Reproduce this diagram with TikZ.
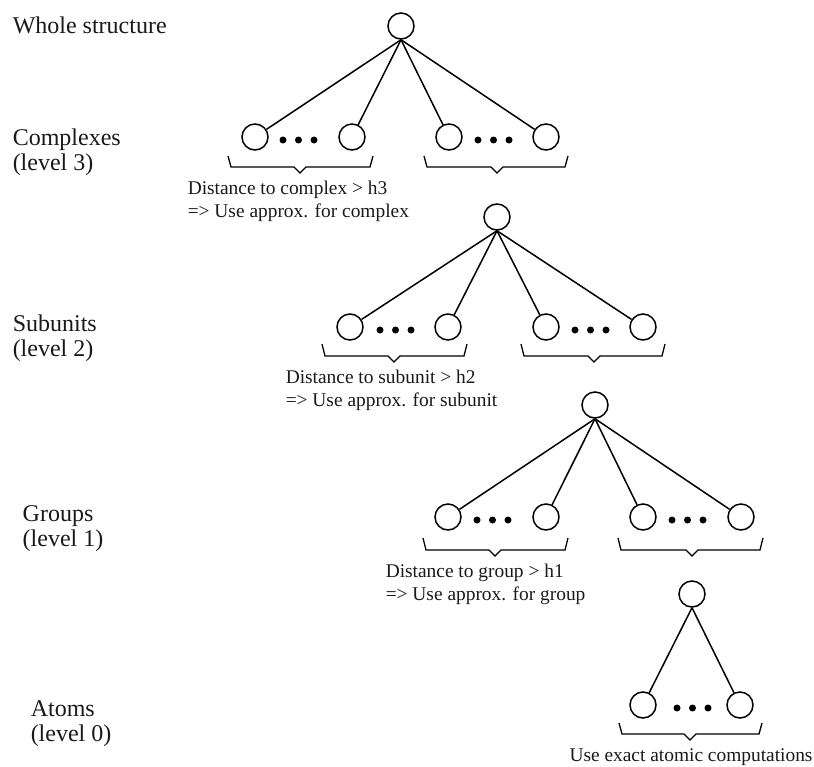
\documentclass[tikz,border=0pt]{standalone}
\usepackage{fontspec}
\setmainfont{Liberation Serif}
\begin{document}
\begin{tikzpicture}[x=1pt,y=-1pt,line width=1.5pt,
  vert/.style={circle,draw,minimum size=26pt,inner sep=0pt},
  dotn/.style={circle,fill,minimum size=7pt,inner sep=0pt},
  lvl/.style={anchor=base west,font=\fontsize{24}{25}\selectfont,align=left,inner sep=0pt,text=black!90},
  note/.style={anchor=base west,font=\fontsize{19.4}{23}\selectfont,align=left,inner sep=0pt,text=black!90},
  brace/.style={line width=1.3pt}]
\useasboundingbox (0,0) rectangle (814,766);

% ---------- level labels (anchor = baseline of last line) ----------
\node[lvl] (lw) at (12,33) {Whole structure};
\node[lvl] (l3) at (12,170) {Complexes\\(level 3)};
\node[lvl] (l2) at (12,356) {Subunits\\(level 2)};
\node[lvl] (l1) at (22,546) {Groups\\(level 1)};
\node[lvl] (l0) at (30,741) {Atoms\\(level 0)};

% ---------- level 3 tree ----------
\node[vert] (r3) at (401,26) {};
\node[vert] (a3) at (255,137) {};
\node[vert] (b3) at (352,137) {};
\node[vert] (c3) at (449,137) {};
\node[vert] (d3) at (546,137) {};
\foreach \c in {a3,b3,c3,d3} \draw (r3.south) -- (\c);
\node[dotn] (p3a) at (283,140) {};
\node[dotn] (p3b) at (298.5,140) {};
\node[dotn] (p3c) at (314,140) {};
\node[dotn] (q3a) at (478,140) {};
\node[dotn] (q3b) at (493.5,140) {};
\node[dotn] (q3c) at (509,140) {};
\draw[brace] (228,156) -- (231,167) -- (294,167) -- (300,173) -- (306,167) -- (370,167) -- (373,156);
\draw[brace] (424,156) -- (427,167) -- (491,167) -- (497,173) -- (503,167) -- (565,167) -- (568,156);
\node[note] (n3) at (187,217) {Distance to complex > h3\\=> Use approx. for complex};

% ---------- level 2 tree ----------
\node[vert] (r2) at (497,217) {};
\node[vert] (a2) at (350,327) {};
\node[vert] (b2) at (448,327) {};
\node[vert] (c2) at (546,327) {};
\node[vert] (d2) at (643,327) {};
\foreach \c in {a2,b2,c2,d2} \draw (r2.south) -- (\c);
\node[dotn] (p2a) at (380,330) {};
\node[dotn] (p2b) at (395.5,330) {};
\node[dotn] (p2c) at (411,330) {};
\node[dotn] (q2a) at (575,330) {};
\node[dotn] (q2b) at (590.5,330) {};
\node[dotn] (q2c) at (606,330) {};
\draw[brace] (322,344) -- (325,356) -- (388,356) -- (394,362) -- (400,356) -- (464,356) -- (467,344);
\draw[brace] (521,344) -- (524,356) -- (588,356) -- (594,362) -- (600,356) -- (662,356) -- (665,344);
\node[note] (n2) at (285,406) {Distance to subunit > h2\\=> Use approx. for subunit};

% ---------- level 1 tree ----------
\node[vert] (r1) at (595,405) {};
\node[vert] (a1) at (448,517) {};
\node[vert] (b1) at (546,517) {};
\node[vert] (c1) at (643,517) {};
\node[vert] (d1) at (741,517) {};
\foreach \c in {a1,b1,c1,d1} \draw (r1.south) -- (\c);
\node[dotn] (p1a) at (477,520) {};
\node[dotn] (p1b) at (492.5,520) {};
\node[dotn] (p1c) at (508,520) {};
\node[dotn] (q1a) at (672,520) {};
\node[dotn] (q1b) at (687.5,520) {};
\node[dotn] (q1c) at (703,520) {};
\draw[brace] (423,538) -- (426,550) -- (489,550) -- (495,556) -- (501,550) -- (565,550) -- (568,538);
\draw[brace] (618,538) -- (621,550) -- (686,550) -- (692,556) -- (698,550) -- (760,550) -- (763,538);
\node[note] (n1) at (385,600) {Distance to group > h1\\=> Use approx. for group};

% ---------- level 0 tree ----------
\node[vert] (r0) at (692,594) {};
\node[vert] (a0) at (643,705) {};
\node[vert] (b0) at (740,705) {};
\foreach \c in {a0,b0} \draw (r0.south) -- (\c);
\node[dotn] (p0a) at (677,708) {};
\node[dotn] (p0b) at (692.5,708) {};
\node[dotn] (p0c) at (708,708) {};
\draw[brace] (619,723) -- (622,734) -- (684,734) -- (690,740) -- (696,734) -- (759,734) -- (762,723);
\node[note,anchor=base] (n0) at (691,761) {Use exact atomic computations};
\end{tikzpicture}
\end{document}
